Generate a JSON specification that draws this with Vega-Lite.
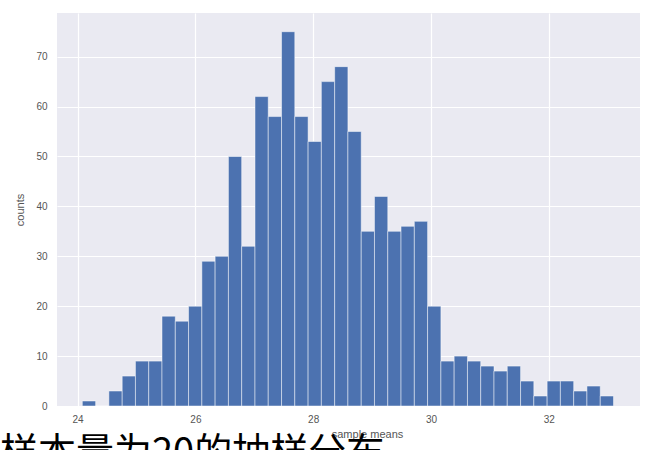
{
  "$schema": "https://vega.github.io/schema/vega-lite/v6.json",
  "autosize": {"type": "none"},
  "width": 583,
  "height": 393,
  "padding": {"left": 57, "top": 13, "right": 5, "bottom": 44},
  "background": "#ffffff",
  "config": {
    "view": {"fill": "#EAEAF2", "stroke": null},
    "axis": {"gridColor": "#ffffff", "gridWidth": 1.2, "domain": false, "ticks": false, "labelColor": "#555555", "labelFont": "Liberation Sans", "labelFontSize": 10, "titleColor": "#555555", "titleFont": "Liberation Sans", "titleFontSize": 11, "titleFontWeight": "normal"}
  },
  "title": {
    "text": "样本量为20的抽样分布",
    "orient": "bottom",
    "anchor": "start",
    "frame": "group",
    "font": "Noto Sans CJK SC",
    "fontSize": 38,
    "fontWeight": "normal",
    "color": "#000000",
    "dx": -57,
    "dy": -4,
    "offset": 0
  },
  "data": {
    "values": [
      {"start": 24.080, "end": 24.306, "count": 1},
      {"start": 24.306, "end": 24.531, "count": 0},
      {"start": 24.531, "end": 24.757, "count": 3},
      {"start": 24.757, "end": 24.982, "count": 6},
      {"start": 24.982, "end": 25.208, "count": 9},
      {"start": 25.208, "end": 25.433, "count": 9},
      {"start": 25.433, "end": 25.659, "count": 18},
      {"start": 25.659, "end": 25.884, "count": 17},
      {"start": 25.884, "end": 26.110, "count": 20},
      {"start": 26.110, "end": 26.335, "count": 29},
      {"start": 26.335, "end": 26.561, "count": 30},
      {"start": 26.561, "end": 26.786, "count": 50},
      {"start": 26.786, "end": 27.012, "count": 32},
      {"start": 27.012, "end": 27.237, "count": 62},
      {"start": 27.237, "end": 27.463, "count": 58},
      {"start": 27.463, "end": 27.688, "count": 75},
      {"start": 27.688, "end": 27.914, "count": 58},
      {"start": 27.914, "end": 28.139, "count": 53},
      {"start": 28.139, "end": 28.365, "count": 65},
      {"start": 28.365, "end": 28.590, "count": 68},
      {"start": 28.590, "end": 28.816, "count": 55},
      {"start": 28.816, "end": 29.041, "count": 35},
      {"start": 29.041, "end": 29.267, "count": 42},
      {"start": 29.267, "end": 29.492, "count": 35},
      {"start": 29.492, "end": 29.718, "count": 36},
      {"start": 29.718, "end": 29.943, "count": 37},
      {"start": 29.943, "end": 30.169, "count": 20},
      {"start": 30.169, "end": 30.394, "count": 9},
      {"start": 30.394, "end": 30.620, "count": 10},
      {"start": 30.620, "end": 30.845, "count": 9},
      {"start": 30.845, "end": 31.071, "count": 8},
      {"start": 31.071, "end": 31.296, "count": 7},
      {"start": 31.296, "end": 31.522, "count": 8},
      {"start": 31.522, "end": 31.747, "count": 5},
      {"start": 31.747, "end": 31.973, "count": 2},
      {"start": 31.973, "end": 32.198, "count": 5},
      {"start": 32.198, "end": 32.424, "count": 5},
      {"start": 32.424, "end": 32.649, "count": 3},
      {"start": 32.649, "end": 32.875, "count": 4},
      {"start": 32.875, "end": 33.100, "count": 2}
    ]
  },
  "mark": {"type": "rect", "fill": "#4C72B0", "stroke": "#ffffff", "strokeWidth": 0.8, "strokeOpacity": 0.6},
  "encoding": {
    "x": {
      "field": "start",
      "type": "quantitative",
      "scale": {"domain": [23.65, 33.55], "nice": false, "zero": false},
      "axis": {"values": [24, 26, 28, 30, 32], "title": "sample means", "labelPadding": 8, "titlePadding": 4, "titleX": 310}
    },
    "x2": {"field": "end"},
    "y": {
      "field": "count",
      "type": "quantitative",
      "scale": {"domain": [0, 78.75], "nice": false},
      "axis": {"values": [0, 10, 20, 30, 40, 50, 60, 70], "title": "counts", "labelPadding": 10, "titlePadding": 10}
    },
    "y2": {"datum": 0}
  }
}
